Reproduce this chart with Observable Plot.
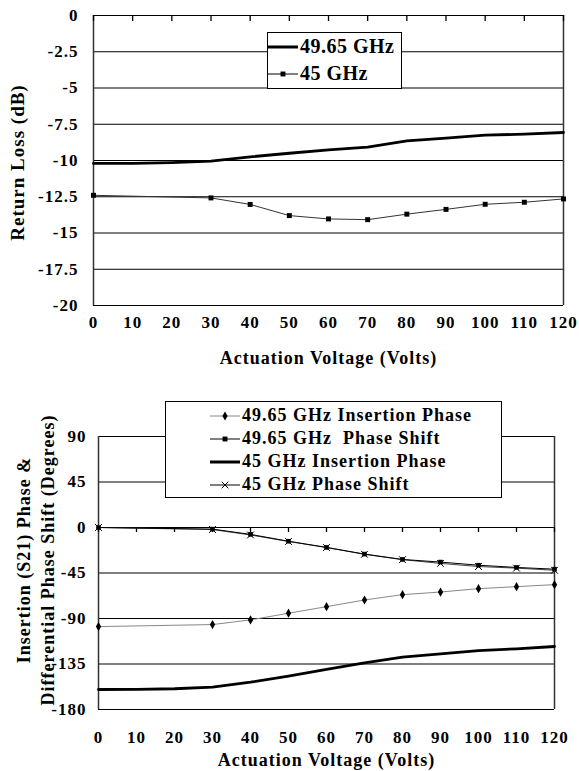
<!DOCTYPE html>
<html>
<head>
<meta charset="utf-8">
<script src="https://cdn.jsdelivr.net/npm/d3@7"></script>
<script src="https://cdn.jsdelivr.net/npm/@observablehq/plot@0.6"></script>
<style>
  html, body { margin: 0; padding: 0; background: white; }
  body { width: 579px; height: 771px; position: relative; overflow: hidden;
         font-family: "Liberation Serif", "Times New Roman", Times, "DejaVu Serif", serif; font-weight: bold; }
  .chart { position: absolute; left: 0; }
  .chart svg text { font-family: "Liberation Serif", "Times New Roman", Times, "DejaVu Serif", serif; font-weight: bold; letter-spacing: 1px; }
  .legend { position: absolute; background: white; border: 1px solid black; box-sizing: border-box;
            font-weight: bold; color: black; }
  .legend .row { position: absolute; left: 0; display: flex; align-items: center; white-space: nowrap; }
  .legend .row svg { display: block; margin-right: 2px; }
</style>
</head>
<body>
<div id="top" class="chart" style="top:0"></div>
<div id="bottom" class="chart" style="top:375px"></div>
<script>
// ---------- data ----------
const voltageTicks = [0, 10, 20, 30, 40, 50, 60, 70, 80, 90, 100, 110, 120];
const voltageAll = [0, 10, 20, 30, 40, 50, 60, 70, 80, 90, 100, 110, 120];
const voltageMeasured = [0, 30, 40, 50, 60, 70, 80, 90, 100, 110, 120];

// Top chart: Return loss (dB)
const returnLossTicks = [0, -2.5, -5, -7.5, -10, -12.5, -15, -17.5, -20];
const returnLoss4965 = [-10.2, -10.2, -10.15, -10.05, -9.75, -9.5, -9.27, -9.08, -8.65, -8.45, -8.25, -8.18, -8.07];
const returnLoss45 = [-12.4, -12.58, -13.03, -13.8, -14.03, -14.08, -13.7, -13.37, -13.02, -12.88, -12.65];

// Bottom chart: phase (degrees)
const phaseTicks = [90, 45, 0, -45, -90, -135, -180];
const insPhase4965 = [-98, -96, -91.4, -84.8, -78.3, -71.7, -66.4, -63.8, -60.5, -58.5, -56.5];
const phaseShift4965 = [0, -1.6, -6.8, -13.6, -19.7, -26.3, -31.6, -34.2, -37.3, -39.5, -41.2];
const insPhase45 = [-160.2, -160, -159.5, -157.9, -153, -147, -140.4, -133.8, -128.3, -125, -121.7, -120, -117.7];
const phaseShift45 = [0, -2, -7.4, -13.8, -19.8, -26.5, -31.8, -35.5, -38.6, -40.2, -42.3];

const xAxisCrossing = 0;
const xLabel = "Actuation Voltage (Volts)";
const topYLabel = "Return Loss (dB)";
const bottomYLabel = "Insertion (S21) Phase &\nDifferential Phase Shift (Degrees)";
const topLegend = ["49.65 GHz", "45 GHz"];
const bottomLegend = ["49.65 GHz Insertion Phase", "49.65 GHz  Phase Shift", "45 GHz Insertion Phase", "45 GHz Phase Shift"];

const rows = (xs, ys) => xs.map((x, i) => ({x, y: ys[i]}));
const font = "'Liberation Serif', 'Times New Roman', Times, 'DejaVu Serif', serif";
const fmt = d => String(d);

// ---------- top chart ----------
const rl4965 = rows(voltageAll, returnLoss4965);
const rl45 = rows(voltageMeasured, returnLoss45);
const topPlot = Plot.plot({
  width: 579, height: 375,
  marginLeft: 93, marginRight: 16, marginTop: 15, marginBottom: 70,
  x: {domain: d3.extent(voltageTicks)},
  y: {domain: d3.extent(returnLossTicks)},
  style: {fontFamily: font, fontWeight: "bold", fontSize: "16px", background: "white", color: "black"},
  marks: [
    Plot.ruleY(returnLossTicks, {stroke: "black", strokeWidth: 1.2}),
    Plot.ruleX(d3.extent(voltageTicks), {stroke: "#333", strokeWidth: 1.5}),
    Plot.ruleX(voltageTicks, {y1: xAxisCrossing, y2: xAxisCrossing, insetBottom: -6, stroke: "black", strokeWidth: 1.3}),
    Plot.axisY({ticks: returnLossTicks, tickSize: 0, tickPadding: 15, tickFormat: fmt, label: null, fontSize: 17}),
    Plot.axisX({ticks: voltageTicks, tickSize: 0, tickPadding: 10, tickFormat: fmt, label: null, fontSize: 17}),
    Plot.line(rl45, {x: "x", y: "y", stroke: "#333", strokeWidth: 1}),
    Plot.dot(rl45, {x: "x", y: "y", symbol: "square", r: 2.8, fill: "black"}),
    Plot.line(rl4965, {x: "x", y: "y", stroke: "black", strokeWidth: 2.8}),
    Plot.text([xLabel], {text: d => d, frameAnchor: "bottom", dy: 58, fontSize: 18}),
    Plot.text([topYLabel], {text: d => d, frameAnchor: "left", textAnchor: "middle", rotate: -90, dx: -76, dy: 2, fontSize: 19})
  ]
});
document.getElementById("top").appendChild(topPlot);

// ---------- bottom chart ----------
const ip4965 = rows(voltageMeasured, insPhase4965);
const ps4965 = rows(voltageMeasured, phaseShift4965);
const ip45 = rows(voltageAll, insPhase45);
const ps45 = rows(voltageMeasured, phaseShift45);
const bottomPlot = Plot.plot({
  width: 579, height: 396,
  marginLeft: 98, marginRight: 25, marginTop: 61, marginBottom: 62,
  x: {domain: d3.extent(voltageTicks)},
  y: {domain: d3.extent(phaseTicks)},
  style: {fontFamily: font, fontWeight: "bold", fontSize: "16px", background: "white", color: "black"},
  marks: [
    Plot.ruleY(phaseTicks, {stroke: "black", strokeWidth: 1.2}),
    Plot.ruleX(d3.extent(voltageTicks), {stroke: "#333", strokeWidth: 1.5}),
    Plot.ruleX(voltageTicks, {y1: xAxisCrossing, y2: xAxisCrossing, insetBottom: -5, stroke: "black", strokeWidth: 1.3}),
    Plot.axisY({ticks: phaseTicks, tickSize: 0, tickPadding: 12, tickFormat: fmt, label: null, fontSize: 17}),
    Plot.axisX({ticks: voltageTicks, tickSize: 0, tickPadding: 21, tickFormat: fmt, label: null, fontSize: 17}),
    Plot.line(ip4965, {x: "x", y: "y", stroke: "#888", strokeWidth: 1}),
    Plot.dot(ip4965, {x: "x", y: "y", symbol: "diamond", r: 2.8, fill: "black"}),
    Plot.line(ps45, {x: "x", y: "y", stroke: "#444", strokeWidth: 1}),
    Plot.dot(ps45, {x: "x", y: "y", symbol: "times", r: 3.2, stroke: "black", strokeWidth: 1}),
    Plot.line(ps4965, {x: "x", y: "y", stroke: "black", strokeWidth: 1}),
    Plot.dot(ps4965, {x: "x", y: "y", symbol: "square", r: 2.6, fill: "black"}),
    Plot.line(ip45, {x: "x", y: "y", stroke: "black", strokeWidth: 2.8}),
    Plot.text([xLabel], {text: d => d, frameAnchor: "bottom", dy: 56, fontSize: 18}),
    Plot.text([bottomYLabel], {text: d => d, frameAnchor: "left", textAnchor: "middle", rotate: -90, dx: -64, dy: -13, lineHeight: 1.3, fontSize: 18})
  ]
});
document.getElementById("bottom").appendChild(bottomPlot);

// ---------- legends (HTML overlays) ----------
function sample(kind) {
  const w = 30, h = 12, m = h / 2;
  const s = d3.create("svg").attr("width", w).attr("height", h);
  const thick = kind === "thick";
  const color = kind === "diamond" ? "#888" : "black";
  s.append("line").attr("x1", 0).attr("x2", w).attr("y1", m).attr("y2", m)
    .attr("stroke", color).attr("stroke-width", thick ? 3 : 1);
  const sym = {square: d3.symbolSquare, diamond: d3.symbolDiamond, times: d3.symbolTimes}[kind];
  if (sym) {
    const p = s.append("path").attr("transform", `translate(${w / 2},${m})`)
      .attr("d", d3.symbol(sym, kind === "times" ? 30 : 24)());
    if (kind === "times") p.attr("fill", "none").attr("stroke", "black").attr("stroke-width", 1);
    else p.attr("fill", "black");
  }
  return s.node();
}
function legend(box, labels, opts, rowTops) {
  const div = document.createElement("div");
  div.className = "legend";
  Object.assign(div.style, box);
  labels.forEach((t, i) => {
    const r = document.createElement("div");
    r.className = "row";
    r.style.top = rowTops[i] + "px";
    r.style.paddingLeft = opts.pad + "px";
    r.appendChild(sample(opts.list[i]));
    const span = document.createElement("span");
    span.textContent = t;
    span.style.whiteSpace = "pre";
    span.style.fontSize = opts.size + "px";
    span.style.letterSpacing = opts.spacing + "px";
    r.appendChild(span);
    div.appendChild(r);
  });
  document.body.appendChild(div);
}
legend({left: "267px", top: "32px", width: "135px", height: "57px"}, topLegend,
  {pad: 0, size: 20, spacing: 0.5, list: ["thick", "square"]}, [2, 29]);
legend({left: "165px", top: "401px", width: "337px", height: "97px"}, bottomLegend,
  {pad: 44, size: 18, spacing: 1, list: ["diamond", "square", "thick", "times"]}, [3, 26, 49, 72]);
</script>
</body>
</html>
